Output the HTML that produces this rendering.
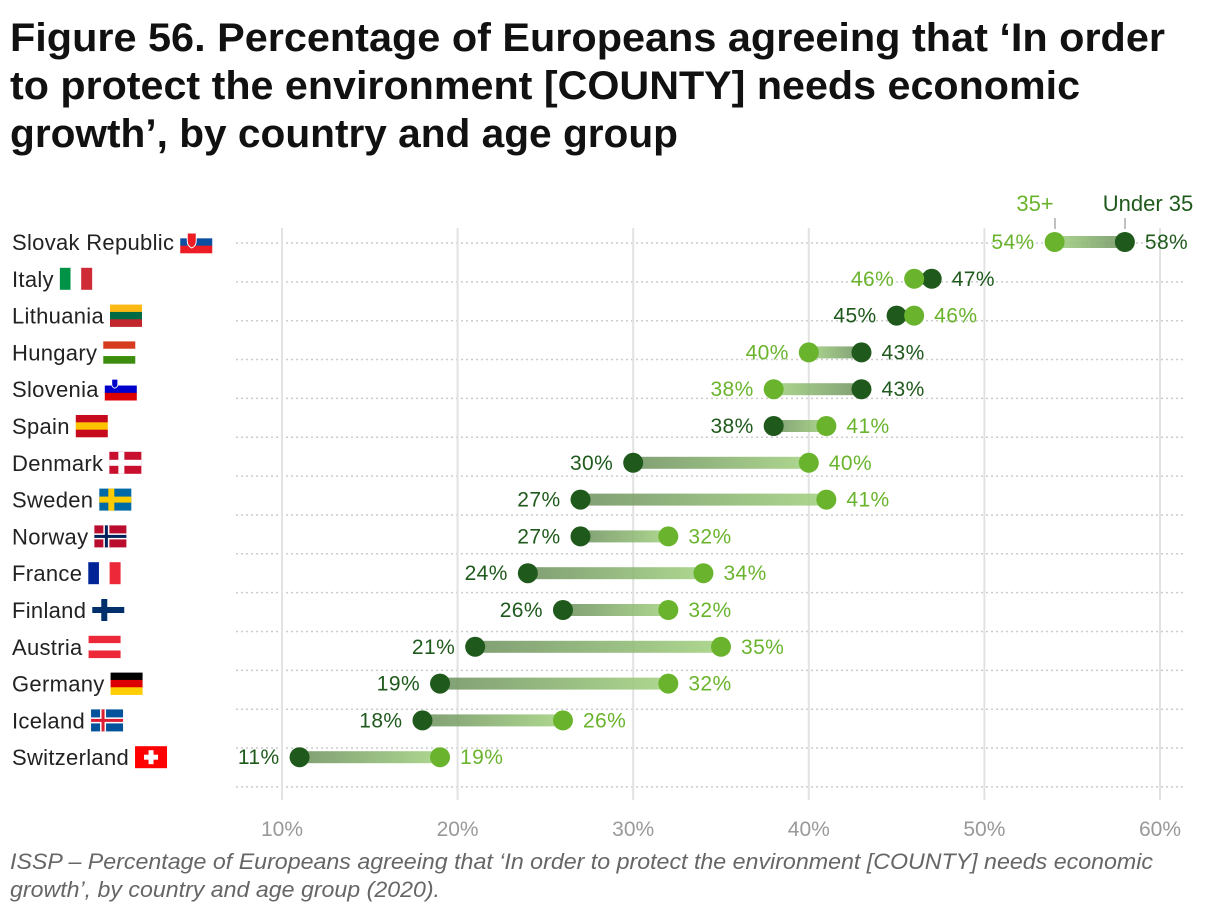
<!DOCTYPE html>
<html><head><meta charset="utf-8"><style>
body{margin:0;background:#fff;width:1220px;height:914px;overflow:hidden;font-family:"Liberation Sans",sans-serif}
</style></head><body>
<svg width="1220" height="914" xmlns="http://www.w3.org/2000/svg">
<g font-weight="bold" font-size="40" fill="#111">
<text x="10" y="51" textLength="1155" lengthAdjust="spacingAndGlyphs">Figure 56. Percentage of Europeans agreeing that ‘In order</text>
<text x="10" y="99" textLength="1070" lengthAdjust="spacingAndGlyphs">to protect the environment [COUNTY] needs economic</text>
<text x="10" y="147" textLength="668" lengthAdjust="spacingAndGlyphs">growth’, by country and age group</text>
</g>
<g id="grid"></g>
<g id="marks"></g>
<g id="labels"></g>
<g font-size="22">
<text x="1035" y="211" fill="#6ab42d" text-anchor="middle">35+</text>
<line x1="1055" y1="218" x2="1055" y2="229" stroke="#aaa" stroke-width="1.5"/>
<text x="1148" y="211" fill="#1f5a1c" text-anchor="middle">Under 35</text>
<line x1="1125" y1="218" x2="1125" y2="229" stroke="#aaa" stroke-width="1.5"/>
</g>
<g font-style="italic" font-size="22" fill="#666">
<text x="10" y="869" textLength="1143" lengthAdjust="spacingAndGlyphs">ISSP – Percentage of Europeans agreeing that ‘In order to protect the environment [COUNTY] needs economic</text>
<text x="10" y="897" textLength="430" lengthAdjust="spacingAndGlyphs">growth’, by country and age group (2020).</text>
</g>
</svg>
<script>
const countries=["Slovak Republic","Italy","Lithuania","Hungary","Slovenia","Spain","Denmark","Sweden","Norway","France","Finland","Austria","Germany","Iceland","Switzerland"];
const under35=[58,47,45,43,43,38,30,27,27,24,26,21,19,18,11];
const over35=[54,46,46,40,38,41,40,41,32,34,32,35,32,26,19];
const ticks=[10,20,30,40,50,60];
const NS="http://www.w3.org/2000/svg";
const x=v=>282+(v-10)*17.56;
const y=i=>242+i*36.8;
const DARK="#1f5a1c",LIGHT="#6ab42d";
function el(t,a,p){const e=document.createElementNS(NS,t);for(const k in a)e.setAttribute(k,a[k]);p.appendChild(e);return e;}
const grid=document.getElementById('grid'),marks=document.getElementById('marks'),labels=document.getElementById('labels');
const svg=document.querySelector('svg');
const defs=el('defs',{},svg);
for(let i=0;i<15;i++){
 const l=el('line',{x1:236,x2:1185,y1:243+i*38.85,y2:243+i*38.85,stroke:"#ccc","stroke-width":1.5,"stroke-dasharray":"2 3"},grid);
 
 
}
ticks.forEach(t=>{
 const l=el('line',{x1:x(t),x2:x(t),y1:228,y2:800,stroke:"#e2e2e2","stroke-width":2},grid);
 
 
 const tx=el('text',{x:x(t),y:836,"text-anchor":"middle","font-size":21,fill:"#999"},grid);
 tx.textContent=t+"%";
 
 
});
const flags=[
 ["SK"],[["#009246","#fff","#ce2b37"],"v"],[["#fdb913","#006a44","#c1272d"],"h"],
 [["#d53b1c","#fff","#3c8d0d"],"h"],["SI"],[["#c60b1e","#ffc400","#c60b1e"],"h"],
 ["DK"],["SE"],["NO"],[["#002395","#fff","#ed2939"],"v"],["FI"],[["#ed2939","#fff","#ed2939"],"h"],
 [["#000","#dd0000","#ffce00"],"h"],["IS"],["CH"]];
function cross(g,fx,fy,bg,c1,c2){
 el('rect',{x:fx,y:fy,width:32,height:22,fill:bg},g);
 el('rect',{x:fx+9,y:fy,width:6,height:22,fill:c1},g);
 el('rect',{x:fx,y:fy+8,width:32,height:6,fill:c1},g);
 if(c2){el('rect',{x:fx+10.5,y:fy,width:3,height:22,fill:c2},g);el('rect',{x:fx,y:fy+9.5,width:32,height:3,fill:c2},g);}
}
countries.forEach((c,i)=>{
 const cy=y(i);
 const t=el('text',{x:12,y:cy+8,"font-size":22,fill:"#222","letter-spacing":"0.3"},labels);
 t.textContent=c;
 
 
 const w=t.getComputedTextLength();
 const fx=12+w+6,fy=cy-11;
 const g=el('g',{},labels);
 
 
 const f=flags[i];
 if(f.length===2){
  const [cols,d]=f;
  cols.forEach((col,k)=>{ if(d==="h")el('rect',{x:fx,y:fy+k*22/3,width:32,height:22/3+0.3,fill:col},g);
   else el('rect',{x:fx+k*32/3,y:fy,width:32/3+0.3,height:22,fill:col},g);});
 } else if(f[0]==="SK"||f[0]==="SI"){
  const cols=f[0]==="SK"?["#fff","#0b4ea2","#ee1c25"]:["#fff","#0000cc","#dd0000"];
  cols.forEach((col,k)=>el('rect',{x:fx,y:fy+k*22/3,width:32,height:22/3+0.3,fill:col},g));
  if(f[0]==="SK"){el('path',{d:`M${fx+7} ${fy+2}h9v8q0 5-4.5 7q-4.5-2-4.5-7z`,fill:"#ee1c25",stroke:"#fff","stroke-width":1},g);}
  else {el('path',{d:`M${fx+7} ${fy+1}h6v5q0 3-3 4q-3-1-3-4z`,fill:"#0000cc",stroke:"#fff","stroke-width":0.8},g);}
 } else if(f[0]==="DK")cross(g,fx,fy,"#c8102e","#fff");
 else if(f[0]==="SE")cross(g,fx,fy,"#006aa7","#fecc00");
 else if(f[0]==="NO")cross(g,fx,fy,"#ba0c2f","#fff","#00205b");
 else if(f[0]==="FI")cross(g,fx,fy,"#fff","#002f6c");
 else if(f[0]==="IS")cross(g,fx,fy,"#02529c","#fff","#dc1e35");
 else if(f[0]==="CH"){el('rect',{x:fx,y:fy,width:32,height:22,fill:"#f00"},g);el('rect',{x:fx+13.5,y:fy+4,width:5,height:14,fill:"#fff"},g);el('rect',{x:fx+9,y:fy+8.5,width:14,height:5,fill:"#fff"},g);}
 const xu=x(under35[i]),xo=x(over35[i]);
 const gid="gr"+i;
 const lg=el('linearGradient',{id:gid,gradientUnits:"userSpaceOnUse",x1:xu,x2:xo,y1:0,y2:0},defs);
 el('stop',{offset:0,"stop-color":"#6b8f5c","stop-opacity":0.85},lg);
 el('stop',{offset:1,"stop-color":"#a5d383","stop-opacity":0.9},lg);
 const bar=el('rect',{x:Math.min(xu,xo),y:cy-6,width:Math.abs(xu-xo),height:12,fill:`url(#${gid})`},marks);
 
 
 const du=el('circle',{cx:xu,cy:cy,r:10,fill:DARK},marks);
 
 
 const dO=el('circle',{cx:xo,cy:cy,r:10,fill:LIGHT},marks);
 
 
 const uLeft=under35[i]<over35[i];
 const lu=el('text',{x:uLeft?xu-20:xu+20,y:cy+7,"text-anchor":uLeft?"end":"start","font-size":21,fill:DARK,"letter-spacing":"0.4"},marks);
 lu.textContent=under35[i]+"%";
 
 
 const lo=el('text',{x:uLeft?xo+20:xo-20,y:cy+7,"text-anchor":uLeft?"start":"end","font-size":21,fill:LIGHT,"letter-spacing":"0.4"},marks);
 lo.textContent=over35[i]+"%";
 
 
});
</script>
</body></html>
